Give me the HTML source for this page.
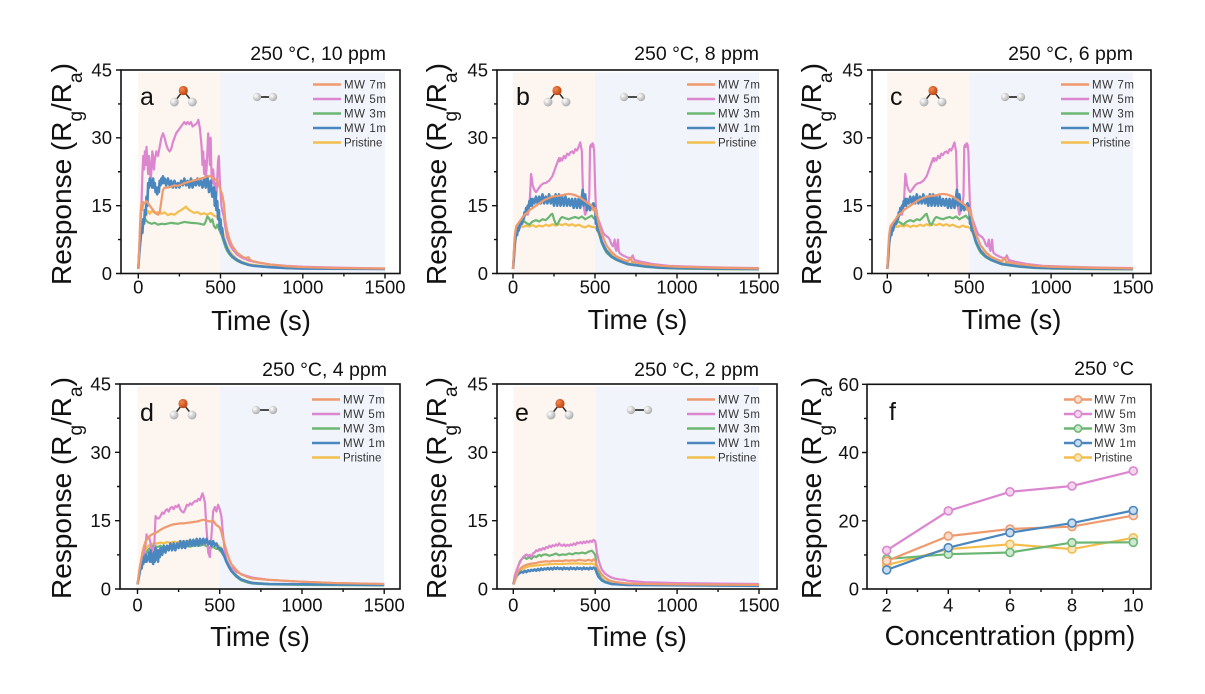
<!DOCTYPE html>
<html><head><meta charset="utf-8"><style>
html,body{margin:0;padding:0;background:#fff;}
svg{display:block;font-family:"Liberation Sans",Arial,sans-serif;}
.fr{fill:none;stroke:#111;stroke-width:1.6;}
.tk{fill:none;stroke:#111;stroke-width:1.4;}
.tl{font-size:18.5px;fill:#111;}
.ti{font-size:19.5px;fill:#111;}
.ax{font-size:27.5px;fill:#111;}
.pl{font-size:25px;fill:#111;}
.lg{font-size:11.5px;fill:#333;letter-spacing:0.6px;}
.c polyline{fill:none;stroke-width:2.2;stroke-linejoin:round;vector-effect:non-scaling-stroke;}
.o{stroke:#EE9A6E;} .p{stroke:#DC86CF;} .g{stroke:#6BB673;} .y{stroke:#F4BE4F;}
.c polyline.b{stroke:#4A87BF;stroke-width:2.6;}
</style></head><body>
<svg width="1205" height="694" viewBox="0 0 1205 694" xmlns="http://www.w3.org/2000/svg">
<defs>
<radialGradient id="rb" cx="0.35" cy="0.35" r="0.7"><stop offset="0" stop-color="#f08a50"/><stop offset="1" stop-color="#c0400e"/></radialGradient>
<radialGradient id="wb" cx="0.35" cy="0.35" r="0.7"><stop offset="0" stop-color="#ffffff"/><stop offset="1" stop-color="#a8a8a8"/></radialGradient>
</defs>

<!-- ================= PANEL A ================= -->
<rect x="138.3" y="72.5" width="82.2" height="200.3" fill="#FDF5EF"/>
<rect x="220.5" y="72.5" width="164.5" height="200.3" fill="#F1F5FB"/>
<g class="c" transform="translate(138.3,273.5) scale(0.16447,-4.522)">
<polyline class="y" points="0,1 5,4 10,7 20,9.5 30,11 40,12.5 50,13 60,13.8 70,13.2 80,13.8 100,13.4 120,13.6 140,13.2 160,13.5 180,12.9 200,13.2 220,13 240,13.6 260,14 280,14.5 290,14.8 300,14.3 320,13.8 340,13.4 360,13.6 380,13.1 400,13.3 420,13 440,13.4 460,12.8 480,12.5 490,12 500,11 510,9.8 520,8.4 530,7 540,6 555,5 570,4.2 600,3.2 630,2.6 670,2.1 700,1.9 800,1.5 900,1.3 1000,1.2 1200,1.1 1500,1"/>
<polyline class="g" points="0,1 5,5 10,8 20,10.5 30,12 40,12.2 50,11.6 60,11.3 80,11 100,11.2 120,10.8 140,11 160,10.9 200,11.2 240,11 280,11.4 320,11.2 360,11.1 400,10.8 410,11.5 420,12.6 430,12.2 440,11.4 450,12 460,10.5 470,10 480,10.8 490,9.8 500,9 510,8.1 520,6.9 530,5.8 540,5 555,4.2 570,3.6 600,2.8 630,2.3 670,1.9 700,1.7 800,1.4 900,1.2 1000,1.15 1200,1.1 1500,1"/>
<polyline class="p" points="0,1 5,5 10,9 15,12 20,16 25,22 30,26 35,23 40,27 45,24 50,28 55,25 60,22 65,26 70,24 75,20 80,23 85,27 90,26 95,23 100,25 110,27 120,26 130,28 140,30 150,31 160,30 170,28.5 180,27.5 190,27 200,27.5 210,29 220,30 230,31 240,31.5 250,32 260,32.5 270,33 280,33.5 290,33 300,33.5 310,33 320,33.5 330,32.5 340,32.8 350,33 360,33.5 365,34 370,33 375,32 380,30 385,28 390,24 395,27 400,22 405,25 410,21 415,23 420,27 425,31 430,28 435,24 440,30 445,22 450,20 455,23 460,21 465,18 470,20 475,17 480,21 485,25 490,26 495,21 500,18 505,15 510,14 520,12.5 530,10 540,8 555,6.5 570,5.5 600,4.2 630,3.5 650,3.2 670,2.9 700,2.6 750,2.3 800,2 900,1.7 1000,1.5 1200,1.3 1500,1.1"/>
<polyline class="b" points="0,1 5,4 10,6 15,8 20,10 25,9 30,12 35,11 40,14 45,13 50,17 55,15 60,20 65,19 70,21 75,19.5 80,20.5 85,19 90,21 95,19 100,20 105,18 110,19 115,17.5 120,19 125,18 130,20.5 135,19.5 140,21 145,20 150,21.5 155,20 160,21 170,19.5 180,21 190,19.5 200,20.5 210,19 220,20.5 230,19 240,20 250,19 260,20.5 270,19.5 280,21 290,19.5 300,20.5 310,19 320,21 330,19 340,20.5 350,19.5 360,21 370,19.5 380,20.5 390,19 400,21 410,19 420,21.5 430,18 440,20.5 450,17 460,19 465,15 470,18 475,14 480,16 485,12 490,14 495,10 500,12 505,9 510,10 515,8 520,7.5 530,6.5 540,5.5 555,4.5 570,3.8 600,3 630,2.4 670,1.9 700,1.7 800,1.4 900,1.2 1000,1.1 1500,1"/>
<polyline class="o" points="0,1 5,5 10,10 15,14 20,15.5 25,14 30,15.8 40,15.5 50,16 60,15.5 70,15 80,14.5 90,14 100,13.5 110,13.2 120,13 130,13.5 140,16 150,18.5 160,19 180,19 200,19.2 220,19.5 240,19.4 260,19.6 280,20 300,20.2 320,20.4 340,20.6 360,20.8 380,21 400,21.2 420,21.5 440,21.5 460,21 480,20.5 490,19.5 500,18.5 510,17.5 520,15.5 530,11.5 540,9.5 555,7.5 570,6.2 600,4.6 630,3.8 650,3.4 670,3.6 680,3 700,2.7 750,2.3 800,2 900,1.6 1000,1.4 1200,1.2 1500,1.1"/>
</g>
<rect class="fr" x="121" y="70" width="279" height="203.5"/>
<path class="tk" d="M121,273.5h-5M121,205.7h-5M121,137.8h-5M121,70h-5M121,239.6h-3M121,171.75h-3M121,103.9h-3M138.3,273.5v5M220.5,273.5v5M302.8,273.5v5M385,273.5v5M179.4,273.5v3M261.6,273.5v3M343.9,273.5v3"/>
<g class="tl" text-anchor="end"><text x="112" y="280">0</text><text x="112" y="212">15</text><text x="112" y="144">30</text><text x="112" y="76.5">45</text></g>
<g class="tl" text-anchor="middle"><text x="138.3" y="293.5">0</text><text x="220.5" y="293.5">500</text><text x="302.8" y="293.5">1000</text><text x="385" y="293.5">1500</text></g>
<text class="ti" x="386" y="60" text-anchor="end">250 °C, 10 ppm</text>
<text class="ax" x="261" y="330" text-anchor="middle">Time (s)</text>
<text class="ax" style="font-size:28px" transform="translate(71,174) rotate(-90)" text-anchor="middle">Response (R<tspan font-size="19" baseline-shift="sub">g</tspan>/R<tspan font-size="19" baseline-shift="sub">a</tspan>)</text>
<text class="pl" x="140" y="105">a</text>
<g><line x1="183.3" y1="90.5" x2="174.3" y2="102" stroke="#333" stroke-width="1.5"/><line x1="183.3" y1="90.5" x2="192.3" y2="102" stroke="#333" stroke-width="1.5"/><circle cx="174.3" cy="102" r="4.5" fill="url(#wb)"/><circle cx="192.3" cy="102" r="4.5" fill="url(#wb)"/><circle cx="183.3" cy="90.5" r="4.6" fill="url(#rb)"/></g>
<g><line x1="257" y1="97" x2="273" y2="97" stroke="#333" stroke-width="1.8"/><circle cx="257" cy="97" r="4.2" fill="url(#wb)"/><circle cx="273" cy="97" r="4.2" fill="url(#wb)"/></g>
<g stroke-width="2.6"><line x1="313" y1="84.5" x2="341" y2="84.5" stroke="#EE9A6E"/><line x1="313" y1="99" x2="341" y2="99" stroke="#DC86CF"/><line x1="313" y1="113.5" x2="341" y2="113.5" stroke="#6BB673"/><line x1="313" y1="128" x2="341" y2="128" stroke="#4A87BF"/><line x1="313" y1="142.5" x2="341" y2="142.5" stroke="#F4BE4F"/></g>
<g class="lg"><text x="344" y="88.5">MW 7m</text><text x="344" y="103">MW 5m</text><text x="344" y="117.5">MW 3m</text><text x="344" y="132">MW 1m</text><text x="344" y="146.5" style="letter-spacing:0">Pristine</text></g>

<!-- ================= PANEL B ================= -->
<rect x="513" y="72.5" width="82" height="200.3" fill="#FDF5EF"/>
<rect x="595" y="72.5" width="164" height="200.3" fill="#F1F5FB"/>
<g class="c" transform="translate(513,273.5) scale(0.164,-4.522)">
<polyline class="y" points="0,1 5,4 10,6 20,8.5 30,9.5 40,10 50,10.5 60,10.3 80,10.6 100,10.4 120,10.7 140,10.3 160,10.6 180,10.4 200,10.8 220,10.5 240,10.9 260,10.6 280,10.9 300,10.7 320,11 340,10.6 360,10.9 380,10.5 400,10.8 420,10.4 440,10.2 460,10.6 480,10.3 490,10.3 500,10.2 510,9.8 520,9 530,8 540,7 555,6 570,5.2 600,4.2 630,3.4 670,2.7 700,2.3 800,1.6 900,1.3 1000,1.1 1200,1 1500,0.9"/>
<polyline class="g" points="0,1 5,4 10,6.5 20,8.5 30,9.5 40,10.3 50,10.8 60,11.3 70,11.5 80,11.2 90,11 100,10.8 110,11.2 120,11.5 140,11.8 160,11.5 180,12 200,11.8 220,12.5 230,13 240,13.2 250,12 260,11 270,10.8 280,11.5 290,12.2 300,12.5 320,12.2 340,12 360,12.3 380,12.5 400,12.2 420,12.6 440,12 460,12.4 480,12.8 490,12.3 500,12 510,11.5 520,10 530,8.2 540,6.8 555,5.6 570,4.6 600,3.6 630,3 670,2.4 700,2 800,1.5 900,1.2 1000,1.1 1200,1 1500,0.9"/>
<polyline class="p" points="0,1 5,4 10,7 20,9 30,10.5 40,10 50,11 60,12 70,12.5 80,13.5 90,13 100,15 105,18 110,22 115,21 120,19.5 130,18.5 140,18 150,18.5 160,19 170,19.5 180,19.8 190,20 200,20 210,20.3 220,20.5 230,21 240,21.5 250,22.5 260,23.5 270,24.5 280,25.5 285,24.8 290,25.5 300,25 310,26 320,25.5 330,26.5 340,26.2 350,26.8 360,27 370,26.6 380,27.5 390,27.2 400,28 405,28.5 410,29 415,28 420,27 425,20 430,15 435,14 440,13 450,14 460,15.5 465,17 470,28 475,28.5 480,28 485,28.8 490,28.5 495,27 500,20 505,15 510,13 520,12 530,11 540,10 550,9 560,8.5 580,8 590,7.5 600,6.5 610,6 620,7.5 625,5.5 630,5 640,7.5 645,5 650,4.5 670,4 700,3.5 720,3.4 730,4 740,3 780,2.6 850,2.1 950,1.7 1100,1.5 1300,1.3 1500,1.2"/>
<polyline class="b" points="0,1 5,3 10,6 15,8 20,9 25,8.5 30,10 35,9.5 40,10.5 50,11.5 55,11 60,12.5 65,12 70,13.5 75,13 80,14.5 85,14 90,15 95,14.5 100,16 105,15 110,16.5 115,15 120,16.5 130,15.5 140,17 150,15.5 160,17 170,15.5 180,17.5 190,15.5 200,17 210,15.5 220,17.5 230,15.5 240,17 250,15 260,17.5 270,15 280,17.5 290,15 300,17 310,15 320,17 330,15 340,16.5 350,15 360,16.5 370,14.5 380,16.5 390,14.5 400,16.5 410,14.5 420,17 425,18.5 430,15 440,17.5 450,14 460,15.5 470,14 480,15 490,15.5 500,14.5 505,11 510,12 515,9.5 520,9.5 530,8.5 540,7.2 555,6 570,5 600,3.8 630,3.1 670,2.5 700,2.1 800,1.6 900,1.3 1000,1.2 1500,1"/>
<polyline class="o" points="0,1 5,5 10,8 15,9.5 20,10.5 30,11 40,11.5 50,12 60,12.5 70,13 80,13.3 90,13.5 100,14 120,14.5 140,15 160,15.5 180,16 200,16.4 220,16.7 240,17 260,17.1 280,17.2 300,17.3 320,17.5 340,17.6 360,17.5 380,17.3 400,17 420,16.5 440,16 460,15.5 480,15 490,14 500,14.5 505,13 510,14 515,12.5 520,11.5 530,10 540,8.8 555,7.5 570,6.2 600,4.8 630,3.8 670,3.1 700,2.7 720,3.5 725,2.6 740,2.5 800,2.1 900,1.7 1000,1.5 1200,1.3 1500,1.1"/>
</g>
<rect class="fr" x="497" y="70" width="281" height="203.5"/>
<path class="tk" d="M497,273.5h-5M497,205.7h-5M497,137.8h-5M497,70h-5M497,239.6h-3M497,171.75h-3M497,103.9h-3M513,273.5v5M595,273.5v5M677,273.5v5M759,273.5v5M554,273.5v3M636,273.5v3M718,273.5v3"/>
<g class="tl" text-anchor="end"><text x="488" y="280">0</text><text x="488" y="212">15</text><text x="488" y="144">30</text><text x="488" y="76.5">45</text></g>
<g class="tl" text-anchor="middle"><text x="513" y="293.5">0</text><text x="595" y="293.5">500</text><text x="677" y="293.5">1000</text><text x="759" y="293.5">1500</text></g>
<text class="ti" x="759" y="60" text-anchor="end">250 °C, 8 ppm</text>
<text class="ax" x="637.5" y="329" text-anchor="middle">Time (s)</text>
<text class="ax" style="font-size:28px" transform="translate(446,174) rotate(-90)" text-anchor="middle">Response (R<tspan font-size="19" baseline-shift="sub">g</tspan>/R<tspan font-size="19" baseline-shift="sub">a</tspan>)</text>
<text class="pl" x="516" y="105">b</text>
<g><line x1="557" y1="90.5" x2="548" y2="102" stroke="#333" stroke-width="1.5"/><line x1="557" y1="90.5" x2="566" y2="102" stroke="#333" stroke-width="1.5"/><circle cx="548" cy="102" r="4.5" fill="url(#wb)"/><circle cx="566" cy="102" r="4.5" fill="url(#wb)"/><circle cx="557" cy="90.5" r="4.6" fill="url(#rb)"/></g>
<g><line x1="624" y1="97" x2="641" y2="97" stroke="#333" stroke-width="1.8"/><circle cx="624" cy="97" r="4.2" fill="url(#wb)"/><circle cx="641" cy="97" r="4.2" fill="url(#wb)"/></g>
<g stroke-width="2.6"><line x1="687" y1="84.5" x2="715" y2="84.5" stroke="#EE9A6E"/><line x1="687" y1="99" x2="715" y2="99" stroke="#DC86CF"/><line x1="687" y1="113.5" x2="715" y2="113.5" stroke="#6BB673"/><line x1="687" y1="128" x2="715" y2="128" stroke="#4A87BF"/><line x1="687" y1="142.5" x2="715" y2="142.5" stroke="#F4BE4F"/></g>
<g class="lg"><text x="718" y="88.5">MW 7m</text><text x="718" y="103">MW 5m</text><text x="718" y="117.5">MW 3m</text><text x="718" y="132">MW 1m</text><text x="718" y="146.5" style="letter-spacing:0">Pristine</text></g>

<!-- ================= PANEL C ================= -->
<rect x="887.3" y="72.5" width="81.9" height="200.3" fill="#FDF5EF"/>
<rect x="969.2" y="72.5" width="163.8" height="200.3" fill="#F1F5FB"/>
<g class="c" transform="translate(887.3,273.5) scale(0.1638,-4.522)">
<polyline class="y" points="0,1 5,4 10,6 20,8.5 30,9.5 40,10 50,10.5 60,10.3 80,10.6 100,10.4 120,10.7 140,10.3 160,10.6 180,10.4 200,10.8 220,10.5 240,10.9 260,10.6 280,10.9 300,10.7 320,11 340,10.6 360,10.9 380,10.5 400,10.8 420,10.4 440,10.2 460,10.6 480,10.3 490,10.3 500,10.2 510,9.8 520,9 530,8 540,7 555,6 570,5.2 600,4.2 630,3.4 670,2.7 700,2.3 800,1.6 900,1.3 1000,1.1 1200,1 1500,0.9"/>
<polyline class="g" points="0,1 5,4 10,6.5 20,8.5 30,9.5 40,10.3 50,10.8 60,11.3 70,11.5 80,11.2 90,11 100,10.8 110,11.2 120,11.5 140,11.8 160,11.5 180,12 200,11.8 220,12.5 230,13 240,13.2 250,12 260,11 270,10.8 280,11.5 290,12.2 300,12.5 320,12.2 340,12 360,12.3 380,12.5 400,12.2 420,12.6 440,12 460,12.4 480,12.8 490,12.3 500,12 510,11.5 520,10 530,8.2 540,6.8 555,5.6 570,4.6 600,3.6 630,3 670,2.4 700,2 800,1.5 900,1.2 1000,1.1 1200,1 1500,0.9"/>
<polyline class="p" points="0,1 5,4 10,7 20,9 30,10.5 40,10 50,11 60,12 70,12.5 80,13.5 90,13 100,15 105,18 110,22 115,21 120,19.5 130,18.5 140,18 150,18.5 160,19 170,19.5 180,19.8 190,20 200,20 210,20.3 220,20.5 230,21 240,21.5 250,22.5 260,23.5 270,24.5 280,25.5 285,24.8 290,25.5 300,25 310,26 320,25.5 330,26.5 340,26.2 350,26.8 360,27 370,26.6 380,27.5 390,27.2 400,28 405,28.5 410,29 415,28 420,27 425,20 430,15 435,14 440,13 450,14 460,15.5 465,17 470,28 475,28.5 480,28 485,28.8 490,28.5 495,27 500,20 505,15 510,13 520,12 530,11 540,10 550,9 560,8.5 580,8 590,7.5 600,6.5 610,6 620,7.5 625,5.5 630,5 640,7.5 645,5 650,4.5 670,4 700,3.5 720,3.4 730,4 740,3 780,2.6 850,2.1 950,1.7 1100,1.5 1300,1.3 1500,1.2"/>
<polyline class="b" points="0,1 5,3 10,6 15,8 20,9 25,8.5 30,10 35,9.5 40,10.5 50,11.5 55,11 60,12.5 65,12 70,13.5 75,13 80,14.5 85,14 90,15 95,14.5 100,16 105,15 110,16.5 115,15 120,16.5 130,15.5 140,17 150,15.5 160,17 170,15.5 180,17.5 190,15.5 200,17 210,15.5 220,17.5 230,15.5 240,17 250,15 260,17.5 270,15 280,17.5 290,15 300,17 310,15 320,17 330,15 340,16.5 350,15 360,16.5 370,14.5 380,16.5 390,14.5 400,16.5 410,14.5 420,17 425,18.5 430,15 440,17.5 450,14 460,15.5 470,14 480,15 490,15.5 500,14.5 505,11 510,12 515,9.5 520,9.5 530,8.5 540,7.2 555,6 570,5 600,3.8 630,3.1 670,2.5 700,2.1 800,1.6 900,1.3 1000,1.2 1500,1"/>
<polyline class="o" points="0,1 5,5 10,8 15,9.5 20,10.5 30,11 40,11.5 50,12 60,12.5 70,13 80,13.3 90,13.5 100,14 120,14.5 140,15 160,15.5 180,16 200,16.4 220,16.7 240,17 260,17.1 280,17.2 300,17.3 320,17.5 340,17.6 360,17.5 380,17.3 400,17 420,16.5 440,16 460,15.5 480,15 490,14 500,14.5 505,13 510,14 515,12.5 520,11.5 530,10 540,8.8 555,7.5 570,6.2 600,4.8 630,3.8 670,3.1 700,2.7 720,3.5 725,2.6 740,2.5 800,2.1 900,1.7 1000,1.5 1200,1.3 1500,1.1"/>
</g>
<rect class="fr" x="872" y="70" width="279" height="203.5"/>
<path class="tk" d="M872,273.5h-5M872,205.7h-5M872,137.8h-5M872,70h-5M872,239.6h-3M872,171.75h-3M872,103.9h-3M887.3,273.5v5M969.2,273.5v5M1051.1,273.5v5M1133,273.5v5M928.25,273.5v3M1010.15,273.5v3M1092.05,273.5v3"/>
<g class="tl" text-anchor="end"><text x="863" y="280">0</text><text x="863" y="212">15</text><text x="863" y="144">30</text><text x="863" y="76.5">45</text></g>
<g class="tl" text-anchor="middle"><text x="887.3" y="293.5">0</text><text x="969.2" y="293.5">500</text><text x="1051.1" y="293.5">1000</text><text x="1133" y="293.5">1500</text></g>
<text class="ti" x="1133" y="60" text-anchor="end">250 °C, 6 ppm</text>
<text class="ax" x="1011.5" y="329" text-anchor="middle">Time (s)</text>
<text class="ax" style="font-size:28px" transform="translate(821,174) rotate(-90)" text-anchor="middle">Response (R<tspan font-size="19" baseline-shift="sub">g</tspan>/R<tspan font-size="19" baseline-shift="sub">a</tspan>)</text>
<text class="pl" x="890" y="105">c</text>
<g><line x1="933" y1="90.5" x2="924" y2="102" stroke="#333" stroke-width="1.5"/><line x1="933" y1="90.5" x2="942" y2="102" stroke="#333" stroke-width="1.5"/><circle cx="924" cy="102" r="4.5" fill="url(#wb)"/><circle cx="942" cy="102" r="4.5" fill="url(#wb)"/><circle cx="933" cy="90.5" r="4.6" fill="url(#rb)"/></g>
<g><line x1="1005" y1="97" x2="1021" y2="97" stroke="#333" stroke-width="1.8"/><circle cx="1005" cy="97" r="4.2" fill="url(#wb)"/><circle cx="1021" cy="97" r="4.2" fill="url(#wb)"/></g>
<g stroke-width="2.6"><line x1="1061" y1="84.5" x2="1089" y2="84.5" stroke="#EE9A6E"/><line x1="1061" y1="99" x2="1089" y2="99" stroke="#DC86CF"/><line x1="1061" y1="113.5" x2="1089" y2="113.5" stroke="#6BB673"/><line x1="1061" y1="128" x2="1089" y2="128" stroke="#4A87BF"/><line x1="1061" y1="142.5" x2="1089" y2="142.5" stroke="#F4BE4F"/></g>
<g class="lg"><text x="1092" y="88.5">MW 7m</text><text x="1092" y="103">MW 5m</text><text x="1092" y="117.5">MW 3m</text><text x="1092" y="132">MW 1m</text><text x="1092" y="146.5" style="letter-spacing:0">Pristine</text></g>

<!-- ================= PANEL D ================= -->
<rect x="137.5" y="386.5" width="82.2" height="201.8" fill="#FDF5EF"/>
<rect x="219.7" y="386.5" width="164.5" height="201.8" fill="#F1F5FB"/>
<g class="c" transform="translate(137.5,589) scale(0.16447,-4.556)">
<polyline class="y" points="0,1 5,2 10,3.5 20,5 30,6.5 40,8 50,8.5 60,9.3 70,9.6 80,9.8 100,10 120,10 140,10.2 160,10 180,10.3 200,10.1 220,10.4 240,10.2 260,10.5 280,10.3 300,10.6 320,10.4 340,10.6 360,10.4 380,10.7 400,10.5 420,10.3 440,10 460,10.2 480,9.8 490,9.6 500,9.3 510,9 520,8.3 530,7.6 540,6.6 555,5.3 570,4.4 600,3.1 630,2.2 670,1.7 700,1.4 800,1.1 1000,1 1500,0.9"/>
<polyline class="g" points="0,1 5,2 10,3.5 20,5 30,6 40,7 50,7.5 60,8.3 70,8.8 80,9.2 90,9.4 100,9.6 120,9.2 140,9.5 160,9 180,9.3 200,9 220,9.3 240,9.1 260,9.4 280,9.2 300,9.4 320,9.3 340,9.5 360,9.6 380,9.5 400,9.8 420,9.4 440,9 460,9.2 480,8.8 490,8.8 500,8.5 510,8.1 520,7.5 530,7 540,6 555,4.8 570,3.9 600,2.7 630,1.9 670,1.4 700,1.2 800,1 1000,0.9 1500,0.8"/>
<polyline class="p" points="0,1 5,2 10,3 20,4.5 30,6 40,8 50,10 55,12 60,11 70,11.5 80,10 85,8 90,7 95,9 100,8 105,12 110,16 120,15.5 130,15.5 140,16 150,16.8 160,16.5 170,17.2 180,17.5 190,17 200,17.8 210,18 220,17.5 230,18.2 240,18 250,18.5 260,17.5 270,17 280,16.8 290,17.5 300,18.5 310,18.3 320,18.8 330,18.5 340,19 350,19.3 360,19.2 370,19.8 380,19.5 390,20.5 395,21 400,20.5 410,19 420,13 430,8 440,7 450,12 460,17 470,18 480,17 490,18.5 500,17.5 510,16 520,12 530,8.5 540,6.5 560,5 600,3.8 650,3 700,2.5 800,2 900,1.8 1000,1.6 1200,1.3 1500,1.1"/>
<polyline class="b" points="0,1 5,2 10,3 15,4 20,5 25,4.5 30,6 35,5.5 40,7 45,6 50,7.5 55,6 60,7 65,6.5 70,8 75,6 80,8.5 85,6 90,7.5 95,5.5 100,8 105,6 110,9 115,6.5 120,8.5 125,6 130,8.5 135,7 140,9 150,7.5 160,9.5 170,8 180,9.5 190,8.5 200,10 210,8.5 220,10 230,8.5 240,10 250,9 260,10.5 270,9 280,10.5 290,9 300,10.5 310,9.5 320,10.8 330,9.5 340,10.8 350,9.5 360,11 370,9.5 380,11 390,9.8 400,11 410,10 420,11 430,9.8 440,10.5 450,9.5 460,10.5 470,9.5 480,10 490,9 500,9 505,8.5 510,8.8 520,7.8 530,7 540,6 555,5 570,4 600,2.9 630,2.1 670,1.6 700,1.3 800,1.1 1500,0.9"/>
<polyline class="o" points="0,1 5,2.5 10,4 20,6 30,8 40,9.5 50,10.5 60,11 70,11.5 80,11.8 90,12 100,12.2 120,12.5 140,13 160,13.4 180,13.7 200,14 220,14.2 240,14.3 260,14.4 280,14.4 300,14.5 320,14.6 340,14.7 360,14.8 380,15 400,15.2 420,15 440,14.8 460,15 470,14.5 480,14 490,13.8 500,13.5 510,12.5 520,11 530,9.8 540,8.5 555,6.8 570,5.5 600,4.2 630,3.2 670,2.6 700,2.3 800,2 900,1.8 1000,1.6 1200,1.3 1500,1.1"/>
</g>
<rect class="fr" x="120" y="384" width="280" height="205"/>
<path class="tk" d="M120,589h-5M120,520.7h-5M120,452.3h-5M120,384h-5M120,554.8h-3M120,486.5h-3M120,418.2h-3M137.5,589v5M219.7,589v5M302,589v5M384.2,589v5M178.6,589v3M260.9,589v3M343.1,589v3"/>
<g class="tl" text-anchor="end"><text x="111" y="595.5">0</text><text x="111" y="527">15</text><text x="111" y="458.8">30</text><text x="111" y="390.5">45</text></g>
<g class="tl" text-anchor="middle"><text x="137.5" y="611.5">0</text><text x="219.7" y="611.5">500</text><text x="302" y="611.5">1000</text><text x="384.2" y="611.5">1500</text></g>
<text class="ti" x="387" y="376" text-anchor="end">250 °C, 4 ppm</text>
<text class="ax" x="260" y="646" text-anchor="middle">Time (s)</text>
<text class="ax" style="font-size:28px" transform="translate(71,488) rotate(-90)" text-anchor="middle">Response (R<tspan font-size="19" baseline-shift="sub">g</tspan>/R<tspan font-size="19" baseline-shift="sub">a</tspan>)</text>
<text class="pl" x="140" y="421">d</text>
<g><line x1="183" y1="403.5" x2="174" y2="415" stroke="#333" stroke-width="1.5"/><line x1="183" y1="403.5" x2="192" y2="415" stroke="#333" stroke-width="1.5"/><circle cx="174" cy="415" r="4.5" fill="url(#wb)"/><circle cx="192" cy="415" r="4.5" fill="url(#wb)"/><circle cx="183" cy="403.5" r="4.6" fill="url(#rb)"/></g>
<g><line x1="256" y1="410" x2="273" y2="410" stroke="#333" stroke-width="1.8"/><circle cx="256" cy="410" r="4.2" fill="url(#wb)"/><circle cx="273" cy="410" r="4.2" fill="url(#wb)"/></g>
<g stroke-width="2.6"><line x1="312" y1="399.5" x2="340" y2="399.5" stroke="#EE9A6E"/><line x1="312" y1="414" x2="340" y2="414" stroke="#DC86CF"/><line x1="312" y1="428.5" x2="340" y2="428.5" stroke="#6BB673"/><line x1="312" y1="443" x2="340" y2="443" stroke="#4A87BF"/><line x1="312" y1="457.5" x2="340" y2="457.5" stroke="#F4BE4F"/></g>
<g class="lg"><text x="343" y="403.5">MW 7m</text><text x="343" y="418">MW 5m</text><text x="343" y="432.5">MW 3m</text><text x="343" y="447">MW 1m</text><text x="343" y="461.5" style="letter-spacing:0">Pristine</text></g>

<!-- ================= PANEL E ================= -->
<rect x="513.3" y="386.5" width="81.9" height="201.8" fill="#FDF5EF"/>
<rect x="595.2" y="386.5" width="163.8" height="201.8" fill="#F1F5FB"/>
<g class="c" transform="translate(513.3,589) scale(0.1638,-4.556)">
<polyline class="y" points="0,1 5,1.5 10,2 20,3 30,3.6 40,4 60,4.5 80,4.8 100,5 150,5.2 200,5.4 250,5.5 300,5.5 350,5.6 400,5.6 450,5.5 480,5.6 500,5.3 510,4.6 520,3.6 530,2.9 540,2.4 560,1.8 600,1.3 700,1 1500,0.8"/>
<polyline class="g" points="0,1 5,2 10,3 20,4 30,5 40,6 50,6.5 60,6.8 70,7 80,6.6 90,6.8 100,7 110,6.6 120,7 130,7.2 140,7 150,7.3 160,7.5 170,7.2 180,7.5 200,7.6 220,7.3 240,7.5 260,7.8 280,7.4 300,7.6 320,7.5 340,7.8 360,7.6 380,7.9 400,7.8 420,8 440,7.8 460,8.2 480,8.4 490,8 500,7.5 505,6.2 510,4.8 520,3.5 530,2.7 540,2.1 560,1.6 600,1.1 700,0.9 1500,0.7"/>
<polyline class="p" points="0,1 5,2 10,3 20,4 30,5 40,5.8 50,6.5 60,7 70,7.3 80,7.6 90,7.2 100,7.5 110,7 120,7.8 130,8 140,8.5 150,8.3 160,8.8 170,8.5 180,9 190,8.7 200,9.2 210,9 220,9.5 230,9.2 240,9.6 250,9.4 260,9.8 270,9.5 280,10 290,9.6 300,9.5 310,9.8 320,9.4 330,9.7 340,9.5 350,9.8 360,9.6 370,10 380,9.7 390,10.2 400,10 410,10.3 420,10 430,10.4 440,10.1 450,10.5 460,10.2 470,10.6 480,10.3 490,10.8 500,10.5 505,9.5 510,8 520,6.5 530,5.2 540,4.3 560,3.4 580,2.9 600,2.5 620,2.3 650,2.1 680,2 700,1.8 800,1.5 900,1.4 1000,1.3 1200,1.2 1500,1.1"/>
<polyline class="b" points="0,1 5,1.5 10,2 15,2.5 20,2.8 25,3.3 30,3.2 35,3.6 40,3.5 50,3.8 60,3.6 70,4 80,3.7 90,4.1 100,3.9 110,4.2 120,4 130,4.3 140,4 150,4.4 160,4.1 170,4.5 180,4.2 190,4.5 200,4.3 210,4.6 220,4.3 230,4.6 240,4.3 250,4.7 260,4.4 270,4.7 280,4.4 290,4.6 300,4.3 310,4.7 320,4.4 330,4.6 340,4.3 350,4.7 360,4.4 370,4.6 380,4.3 390,4.7 400,4.4 410,4.6 420,4.3 430,4.7 440,4.4 450,4.6 460,4.3 470,4.7 480,4.4 490,4.7 500,4.5 505,4 510,3.5 520,2.7 540,1.9 560,1.5 600,1.1 700,0.9 1500,0.7"/>
<polyline class="o" points="0,1 5,1.5 10,2 20,3 30,3.8 40,4.3 50,4.7 60,5 80,5.3 100,5.5 120,5.6 140,5.7 160,5.9 180,6 200,6.1 220,6 240,6.2 260,6.1 280,6.2 300,6.1 320,6.3 340,6.2 360,6.3 380,6.2 400,6.4 420,6.3 440,6.2 460,6.4 480,6.2 490,6.5 500,6.2 510,5.2 520,4.3 540,3.2 560,2.5 580,2 600,1.7 650,1.4 700,1.2 800,1.1 1000,1 1500,0.9"/>
</g>
<rect class="fr" x="497" y="384" width="280" height="205"/>
<path class="tk" d="M497,589h-5M497,520.7h-5M497,452.3h-5M497,384h-5M497,554.8h-3M497,486.5h-3M497,418.2h-3M513.3,589v5M595.2,589v5M677.1,589v5M759,589v5M554.25,589v3M636.15,589v3M718.05,589v3"/>
<g class="tl" text-anchor="end"><text x="488" y="595.5">0</text><text x="488" y="527">15</text><text x="488" y="458.8">30</text><text x="488" y="390.5">45</text></g>
<g class="tl" text-anchor="middle"><text x="513.3" y="611.5">0</text><text x="595.2" y="611.5">500</text><text x="677.1" y="611.5">1000</text><text x="759" y="611.5">1500</text></g>
<text class="ti" x="759" y="376" text-anchor="end">250 °C, 2 ppm</text>
<text class="ax" x="637" y="646" text-anchor="middle">Time (s)</text>
<text class="ax" style="font-size:28px" transform="translate(446,488) rotate(-90)" text-anchor="middle">Response (R<tspan font-size="19" baseline-shift="sub">g</tspan>/R<tspan font-size="19" baseline-shift="sub">a</tspan>)</text>
<text class="pl" x="515" y="421">e</text>
<g><line x1="560" y1="403.5" x2="551" y2="415" stroke="#333" stroke-width="1.5"/><line x1="560" y1="403.5" x2="569" y2="415" stroke="#333" stroke-width="1.5"/><circle cx="551" cy="415" r="4.5" fill="url(#wb)"/><circle cx="569" cy="415" r="4.5" fill="url(#wb)"/><circle cx="560" cy="403.5" r="4.6" fill="url(#rb)"/></g>
<g><line x1="631" y1="410" x2="648" y2="410" stroke="#333" stroke-width="1.8"/><circle cx="631" cy="410" r="4.2" fill="url(#wb)"/><circle cx="648" cy="410" r="4.2" fill="url(#wb)"/></g>
<g stroke-width="2.6"><line x1="687" y1="399.5" x2="715" y2="399.5" stroke="#EE9A6E"/><line x1="687" y1="414" x2="715" y2="414" stroke="#DC86CF"/><line x1="687" y1="428.5" x2="715" y2="428.5" stroke="#6BB673"/><line x1="687" y1="443" x2="715" y2="443" stroke="#4A87BF"/><line x1="687" y1="457.5" x2="715" y2="457.5" stroke="#F4BE4F"/></g>
<g class="lg"><text x="718" y="403.5">MW 7m</text><text x="718" y="418">MW 5m</text><text x="718" y="432.5">MW 3m</text><text x="718" y="447">MW 1m</text><text x="718" y="461.5" style="letter-spacing:0">Pristine</text></g>

<!-- ================= PANEL F ================= -->
<g fill="none" stroke-width="2.2" stroke-linejoin="round">
<polyline stroke="#F4BE4F" points="886.7,565.1 948.3,549.1 1010,544.3 1072,549.1 1133.3,537.8"/>
<polyline stroke="#6BB673" points="886.7,559 948.3,554.2 1010,552.5 1072,542.6 1133.3,542.3"/>
<polyline stroke="#EE9A6E" points="886.7,561 948.3,536.1 1010,529 1072,526.6 1133.3,515.6"/>
<polyline stroke="#4A87BF" points="886.7,569.9 948.3,547.7 1010,532.7 1072,523.1 1133.3,510.5"/>
<polyline stroke="#DC86CF" points="886.7,550.4 948.3,510.9 1010,491.8 1072,486 1133.3,470.9"/>
</g>
<g stroke-width="1.6">
<g stroke="#F4BE4F" fill="#fbe6bd"><circle cx="886.7" cy="565.1" r="4"/><circle cx="948.3" cy="549.1" r="4"/><circle cx="1010" cy="544.3" r="4"/><circle cx="1072" cy="549.1" r="4"/><circle cx="1133.3" cy="537.8" r="4"/></g>
<g stroke="#6BB673" fill="#cfe8d2"><circle cx="886.7" cy="559" r="4"/><circle cx="948.3" cy="554.2" r="4"/><circle cx="1010" cy="552.5" r="4"/><circle cx="1072" cy="542.6" r="4"/><circle cx="1133.3" cy="542.3" r="4"/></g>
<g stroke="#EE9A6E" fill="#f9dccc"><circle cx="886.7" cy="561" r="4"/><circle cx="948.3" cy="536.1" r="4"/><circle cx="1010" cy="529" r="4"/><circle cx="1072" cy="526.6" r="4"/><circle cx="1133.3" cy="515.6" r="4"/></g>
<g stroke="#4A87BF" fill="#c9dcee"><circle cx="886.7" cy="569.9" r="4"/><circle cx="948.3" cy="547.7" r="4"/><circle cx="1010" cy="532.7" r="4"/><circle cx="1072" cy="523.1" r="4"/><circle cx="1133.3" cy="510.5" r="4"/></g>
<g stroke="#DC86CF" fill="#f3d6ee"><circle cx="886.7" cy="550.4" r="4"/><circle cx="948.3" cy="510.9" r="4"/><circle cx="1010" cy="491.8" r="4"/><circle cx="1072" cy="486" r="4"/><circle cx="1133.3" cy="470.9" r="4"/></g>
</g>
<rect class="fr" x="867" y="384.3" width="284" height="204.7"/>
<path class="tk" d="M867,589h-5M867,520.8h-5M867,452.5h-5M867,384.3h-5M867,554.9h-3M867,486.6h-3M867,418.4h-3M886.7,589v5M948.3,589v5M1010,589v5M1072,589v5M1133.3,589v5M917.5,589v3M979.2,589v3M1041,589v3M1102.7,589v3"/>
<g class="tl" text-anchor="end"><text x="859" y="595.5">0</text><text x="859" y="527.3">20</text><text x="859" y="459">40</text><text x="859" y="390.8">60</text></g>
<g class="tl" text-anchor="middle"><text x="886.7" y="611.5">2</text><text x="948.3" y="611.5">4</text><text x="1010" y="611.5">6</text><text x="1072" y="611.5">8</text><text x="1133.3" y="611.5">10</text></g>
<text class="ti" x="1134" y="375" text-anchor="end">250 °C</text>
<text class="ax" x="1010" y="645" text-anchor="middle">Concentration (ppm)</text>
<text class="ax" style="font-size:28px" transform="translate(821,488) rotate(-90)" text-anchor="middle">Response (R<tspan font-size="19" baseline-shift="sub">g</tspan>/R<tspan font-size="19" baseline-shift="sub">a</tspan>)</text>
<text class="pl" x="889" y="420">f</text>
<g stroke-width="2.4"><line x1="1064" y1="399.5" x2="1092" y2="399.5" stroke="#EE9A6E"/><line x1="1064" y1="414" x2="1092" y2="414" stroke="#DC86CF"/><line x1="1064" y1="428.5" x2="1092" y2="428.5" stroke="#6BB673"/><line x1="1064" y1="443" x2="1092" y2="443" stroke="#4A87BF"/><line x1="1064" y1="457.5" x2="1092" y2="457.5" stroke="#F4BE4F"/></g>
<g stroke-width="1.5"><circle cx="1078" cy="399.5" r="3.6" stroke="#EE9A6E" fill="#f9dccc"/><circle cx="1078" cy="414" r="3.6" stroke="#DC86CF" fill="#f3d6ee"/><circle cx="1078" cy="428.5" r="3.6" stroke="#6BB673" fill="#cfe8d2"/><circle cx="1078" cy="443" r="3.6" stroke="#4A87BF" fill="#c9dcee"/><circle cx="1078" cy="457.5" r="3.6" stroke="#F4BE4F" fill="#fbe6bd"/></g>
<g class="lg"><text x="1094" y="403.5">MW 7m</text><text x="1094" y="418">MW 5m</text><text x="1094" y="432.5">MW 3m</text><text x="1094" y="447">MW 1m</text><text x="1094" y="461.5" style="letter-spacing:0">Pristine</text></g>
</svg>
</body></html>
